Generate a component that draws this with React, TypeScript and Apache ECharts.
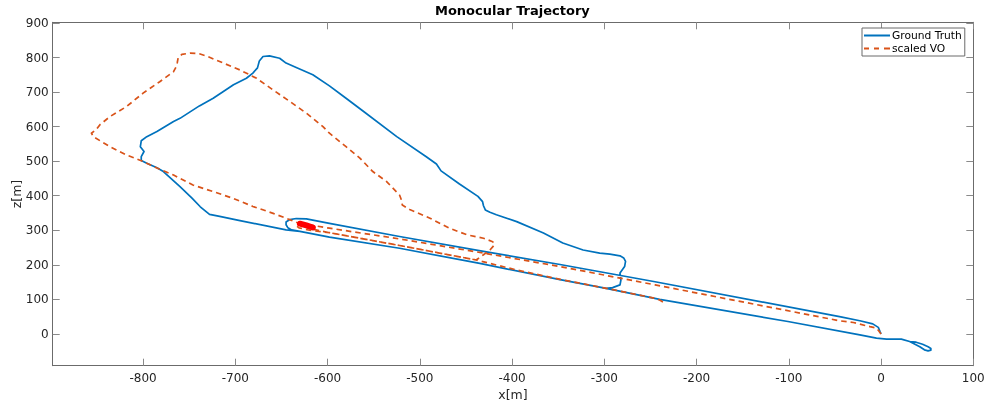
import React, { useEffect, useRef } from "react";
import * as echarts from "echarts";

const seriesNames = ["Ground Truth", "scaled VO"];

const xTicks = [-800, -700, -600, -500, -400, -300, -200, -100, 0, 100];
const yTicks = [0, 100, 200, 300, 400, 500, 600, 700, 800, 900];

const groundTruth: number[][] = [
  [0, 0], [-1, 6], [-3, 19], [-9, 29], [-23, 38], [-45, 50], [-245, 151], [-348, 201], [-431, 239],
  [-522, 282], [-598, 320], [-623, 333], [-634, 334], [-641, 331], [-645, 324], [-645, 316],
  [-643, 307], [-639, 301], [-630, 297], [-598, 280], [-522, 248], [-435, 204], [-348, 157],
  [-298, 132], [-291, 134], [-283, 142], [-282, 156], [-283, 176], [-278, 195], [-277, 210],
  [-279, 220], [-283, 226], [-294, 231], [-305, 234], [-323, 243], [-345, 263], [-366, 292],
  [-395, 325], [-417, 345], [-424, 352], [-429, 359], [-431, 371], [-432, 383], [-437, 398],
  [-457, 434], [-477, 472], [-482, 492], [-493, 513], [-525, 571], [-562, 646], [-580, 682],
  [-598, 718], [-616, 750], [-634, 771], [-645, 784], [-652, 798], [-663, 805], [-670, 803],
  [-674, 790], [-676, 770], [-681, 755], [-688, 740], [-702, 721], [-724, 682], [-739, 660],
  [-760, 624], [-767, 615], [-785, 586], [-796, 571], [-802, 559], [-803, 542], [-799, 528],
  [-802, 513], [-802, 502], [-796, 494], [-785, 481], [-778, 470], [-760, 426], [-747, 393],
  [-738, 368], [-728, 346], [-717, 340], [-695, 328], [-645, 301], [-630, 297], [-598, 280],
  [-522, 248], [-435, 204], [-348, 157], [-298, 132], [-240, 100], [-101, 36], [-23, -3],
  [-5, -12], [6, -15], [22, -15], [31, -22], [42, -37], [47, -46], [51, -49], [54, -47],
  [54, -42], [51, -37], [45, -30], [38, -24], [31, -22],
];

const scaledVO: number[][] = [
  [0, 0], [-2, 7], [-5, 17], [-12, 21], [-30, 33], [-45, 38], [-245, 142], [-348, 195],
  [-431, 234], [-522, 275], [-598, 306], [-614, 313], [-624, 317], [-631, 317], [-634, 313],
  [-631, 307], [-621, 301], [-598, 293], [-522, 256], [-439, 214], [-435, 221], [-431, 229],
  [-424, 243], [-419, 258], [-421, 267], [-431, 277], [-449, 287], [-468, 306], [-489, 335],
  [-511, 360], [-519, 373], [-520, 388], [-522, 402], [-536, 441], [-551, 470], [-565, 509],
  [-580, 542], [-598, 581], [-605, 600], [-623, 639], [-641, 673], [-659, 706], [-677, 740],
  [-695, 764], [-713, 784], [-730, 803], [-739, 811], [-749, 813], [-758, 809], [-762, 799],
  [-763, 785], [-764, 774], [-767, 759], [-782, 730], [-800, 697], [-818, 658], [-836, 629],
  [-847, 605], [-851, 591], [-856, 581], [-854, 571], [-836, 542], [-818, 518], [-800, 499],
  [-785, 480], [-767, 460], [-746, 431], [-724, 412], [-702, 392], [-681, 369], [-659, 349],
  [-645, 335], [-632, 321], [-619, 305], [-598, 293], [-522, 256], [-439, 214], [-395, 185],
  [-348, 158], [-298, 132], [-245, 103], [-240, 98], [-233, 87],
];

const redMarker: number[][] = [[-630, 319], [-623, 314], [-616, 308]];

const FONT = "DejaVu Sans";

export default function App() {
  const ref = useRef<HTMLDivElement>(null);
  useEffect(() => {
    const chart = echarts.init(ref.current!, null, { renderer: "svg" });
    const axisLine = { show: true, onZero: false, lineStyle: { color: "#6b6b6b", width: 1 } };
    const tickStyle = { color: "#8a8a8a", width: 1 };
    const labelStyle = { fontFamily: FONT, fontSize: 12, color: "#262626" };
    chart.setOption({
      animation: false,
      title: {
        text: "Monocular Trajectory",
        left: 435,
        top: 4,
        padding: 0,
        textStyle: { fontFamily: FONT, fontSize: 13, fontWeight: "bold", color: "#000" },
      },
      legend: {
        data: [
          { name: seriesNames[0], icon: "path://M0,0h26v2h-26z" },
          { name: seriesNames[1], icon: "path://M0,0h5v2h-5zM10,0h5v2h-5zM20,0h6v2h-6z" },
        ],
        orient: "vertical",
        left: 862,
        top: 28,
        padding: [1, 3, 1, 2],
        itemGap: 0,
        itemWidth: 26,
        itemHeight: 2,
        borderColor: "#6b6b6b",
        borderWidth: 1,
        backgroundColor: "#fff",
        textStyle: { fontFamily: FONT, fontSize: 10.7, lineHeight: 13, color: "#000", padding: [0, 0, 0, -3] },
      },
      grid: { left: 52.7, right: 11.7, top: 22.3, bottom: 39.3, outerBoundsMode: "none" },
      xAxis: [
        {
          type: "value", min: -898, max: 100, position: "bottom",
          name: "x[m]", nameLocation: "middle", nameGap: 22, nameMoveOverlap: false,
          nameTextStyle: { fontFamily: FONT, fontSize: 12.5, color: "#262626" },
          axisLine,
          axisTick: { show: true, inside: true, length: 7, lineStyle: tickStyle, customValues: xTicks },
          axisLabel: { ...labelStyle, margin: 6, customValues: xTicks },
          splitLine: { show: false },
        },
        {
          type: "value", min: -898, max: 100, position: "top",
          axisLine,
          axisTick: { show: true, inside: true, length: 7, lineStyle: tickStyle, customValues: xTicks },
          axisLabel: { show: false },
          splitLine: { show: false },
        },
      ],
      yAxis: [
        {
          type: "value", min: -92, max: 902, position: "left",
          name: "z[m]", nameLocation: "middle", nameGap: 30, nameRotate: 90, nameMoveOverlap: false,
          nameTextStyle: { fontFamily: FONT, fontSize: 12.5, color: "#262626" },
          axisLine,
          axisTick: { show: true, inside: true, length: 7, lineStyle: tickStyle, customValues: yTicks },
          axisLabel: { ...labelStyle, margin: 4, customValues: yTicks },
          splitLine: { show: false },
        },
        {
          type: "value", min: -92, max: 902, position: "right",
          axisLine,
          axisTick: { show: true, inside: true, length: 7, lineStyle: tickStyle, customValues: yTicks },
          axisLabel: { show: false },
          splitLine: { show: false },
        },
      ],
      series: [
        {
          type: "line", name: seriesNames[0], data: groundTruth, symbol: "none", showSymbol: false,
          xAxisIndex: 0, yAxisIndex: 0, z: 2,
          lineStyle: { color: "#0072BD", width: 1.7, join: "round" },
          itemStyle: { color: "#0072BD" },
        },
        {
          type: "line", name: seriesNames[1], data: scaledVO, symbol: "none", showSymbol: false,
          xAxisIndex: 0, yAxisIndex: 0, z: 3,
          lineStyle: { color: "#D95319", width: 1.7, type: [5.5, 4], join: "round" },
          itemStyle: { color: "#D95319" },
        },
        {
          type: "line", name: "marker", data: redMarker, symbol: "none", showSymbol: false,
          xAxisIndex: 0, yAxisIndex: 0, z: 4, silent: true,
          lineStyle: { color: "#ff0000", width: 6, cap: "round" },
          itemStyle: { color: "#ff0000" },
        },
      ],
    });
    return () => chart.dispose();
  }, []);
  return <div ref={ref} style={{ position: "fixed", left: 0, top: 0, width: 985, height: 405 }} />;
}
